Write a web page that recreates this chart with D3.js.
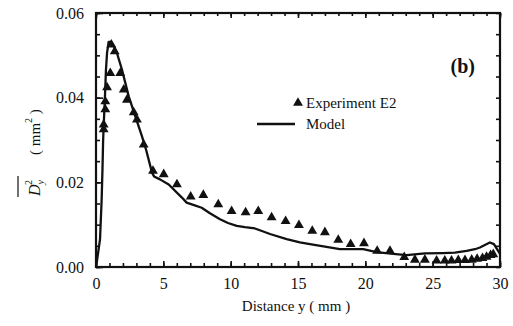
<!DOCTYPE html>
<html>
<head>
<meta charset="utf-8">
<script src="https://cdn.jsdelivr.net/npm/d3@7"></script>
<style>
  body { margin: 0; background: #fff; }
  text { font-family: "Times New Roman", "Liberation Serif", Times, serif; }
</style>
</head>
<body>
<svg id="chart" width="513" height="326"></svg>
<script>
// experiment E2 (triangles)
var expX = [0.57, 0.57, 0.69, 0.69, 0.82, 1.06, 1.14, 1.39, 1.80, 2.06, 2.30, 2.80, 3.04, 3.54,
            4.23, 5.03, 6.01, 7.03, 7.97, 9.08, 10.07, 11.11, 12.05, 13.04, 14.08, 15.07, 16.06,
            17.00, 17.99, 18.91, 19.90, 20.88, 21.83, 22.89, 23.68, 24.42, 25.29, 25.90, 26.40,
            26.90, 27.40, 27.90, 28.30, 28.70, 29.00, 29.30, 29.50];
var expY = [0.0325, 0.0336, 0.0372, 0.0391, 0.0424, 0.0458, 0.0525, 0.0509, 0.0458, 0.0419, 0.0395,
            0.0365, 0.0348, 0.0289, 0.0227, 0.0219, 0.0195, 0.0166, 0.0170, 0.0148, 0.0132, 0.0129,
            0.0132, 0.0117, 0.0108, 0.0099, 0.0085, 0.0082, 0.0064, 0.0054, 0.0056, 0.0038, 0.0038,
            0.0023, 0.0017, 0.0017, 0.0015, 0.0015, 0.0015, 0.0016, 0.0016, 0.0017, 0.0019, 0.0021,
            0.0024, 0.0028, 0.0030];

// model (solid line)
var modelX = [0, 0.07, 0.30, 0.42, 0.48, 0.53, 0.59, 0.67, 0.74, 0.82, 0.94, 1.11, 1.34, 1.56, 1.93,
              2.43, 2.92, 3.41, 3.71, 4.16, 4.31, 4.75, 5.40, 6.38, 6.73, 7.28, 7.85, 8.46, 9.21,
              9.80, 10.45, 11.06, 11.80, 12.32, 12.92, 14.16, 15.14, 15.89, 17.00, 18.11, 19.84,
              20.84, 22.07, 23.07, 24.42, 25.76, 26.65, 27.52, 28.14, 28.51, 28.95, 29.25, 29.55,
              29.78, 30.0];
var modelY = [0, 0.0014, 0.0066, 0.0160, 0.0230, 0.0300, 0.0348, 0.0407, 0.0466, 0.0506, 0.0532,
              0.0532, 0.0520, 0.0505, 0.0466, 0.0403, 0.0356, 0.0309, 0.0278, 0.0223, 0.0214, 0.0207,
              0.0195, 0.0164, 0.0152, 0.0146, 0.0140, 0.0127, 0.0113, 0.0104, 0.0097, 0.0094, 0.0091,
              0.0085, 0.0078, 0.0066, 0.0058, 0.0054, 0.0048, 0.0042, 0.0042, 0.0035, 0.0031, 0.0028,
              0.0032, 0.0033, 0.0034, 0.0038, 0.0042, 0.0046, 0.0053, 0.0058, 0.0054, 0.0042, 0.0031];

var xMajor = [0, 5, 10, 15, 20, 25, 30];
var yMajor = [0, 0.02, 0.04, 0.06];

var svg = d3.select("#chart");
var plotLeft = 96, plotRight = 500, plotTop = 13, plotBottom = 267;

var x = d3.scaleLinear().domain([0, 30]).range([plotLeft, plotRight]);
var y = d3.scaleLinear().domain([0, 0.06]).range([plotBottom, plotTop]);

function styleAxis(g){
	g.attr("font-family", null);
	g.select(".domain").remove();
	g.selectAll("line").attr("stroke", "#111").attr("stroke-width", 1.6);
	g.selectAll("text").attr("font-size", 16).attr("fill", "#111");
}

// minor ticks, all four sides
svg.append("g").attr("transform", "translate(0," + plotBottom + ")")
	.call(d3.axisBottom(x).tickValues(d3.range(0, 31, 1)).tickSize(-4).tickFormat(""))
	.call(styleAxis);
svg.append("g").attr("transform", "translate(0," + plotTop + ")")
	.call(d3.axisTop(x).tickValues(d3.range(0, 31, 1)).tickSize(-3).tickFormat(""))
	.call(styleAxis);
svg.append("g").attr("transform", "translate(" + plotLeft + ",0)")
	.call(d3.axisLeft(y).tickValues(d3.range(0, 0.0601, 0.005)).tickSize(-4).tickFormat(""))
	.call(styleAxis);
svg.append("g").attr("transform", "translate(" + plotRight + ",0)")
	.call(d3.axisRight(y).tickValues(d3.range(0, 0.0601, 0.005)).tickSize(-4).tickFormat(""))
	.call(styleAxis);

// major ticks with labels
svg.append("g").attr("transform", "translate(0," + plotBottom + ")")
	.call(d3.axisBottom(x).tickValues(xMajor).tickSize(-6).tickPadding(11).tickFormat(d3.format("d")))
	.call(styleAxis);
svg.append("g").attr("transform", "translate(0," + plotTop + ")")
	.call(d3.axisTop(x).tickValues(xMajor).tickSize(-5).tickFormat(""))
	.call(styleAxis);
svg.append("g").attr("transform", "translate(" + plotLeft + ",0)")
	.call(d3.axisLeft(y).tickValues(yMajor).tickSize(-7).tickPadding(12).tickFormat(d3.format(".2f")))
	.call(styleAxis);

// frame
svg.append("rect")
	.attr("x", plotLeft).attr("y", plotTop)
	.attr("width", plotRight - plotLeft).attr("height", plotBottom - plotTop)
	.attr("fill", "none").attr("stroke", "#111").attr("stroke-width", 2.2);

// model line
var line = d3.line()
	.x(function(d, i){ return x(modelX[i]); })
	.y(function(d, i){ return y(modelY[i]); });
svg.append("path")
	.datum(modelY)
	.attr("d", line)
	.attr("fill", "none").attr("stroke", "#111").attr("stroke-width", 2.3)
	.attr("stroke-linejoin", "round");

// experiment triangles
var tri = d3.symbol().type(d3.symbolTriangle).size(42);
svg.append("g").selectAll("path")
	.data(expY)
	.join("path")
	.attr("d", tri)
	.attr("transform", function(d, i){ return "translate(" + x(expX[i]) + "," + y(d) + ")"; })
	.attr("fill", "#111");

// legend
svg.append("path").attr("d", tri).attr("transform", "translate(298,103)").attr("fill", "#111");
svg.append("text").attr("x", 306).attr("y", 108).attr("font-size", 15).text("Experiment E2");
svg.append("line").attr("x1", 257).attr("x2", 295).attr("y1", 124).attr("y2", 124)
	.attr("stroke", "#111").attr("stroke-width", 2.3);
svg.append("text").attr("x", 306).attr("y", 129).attr("font-size", 15).text("Model");

svg.append("text").attr("x", 475).attr("y", 73).attr("text-anchor", "end")
	.attr("font-size", 20).attr("font-weight", "bold").text("(b)");

// x label
svg.append("text").attr("x", 296).attr("y", 311).attr("text-anchor", "middle")
	.attr("font-size", 15).text("Distance y  ( mm )");

// y label, rotated
var yl = svg.append("g").attr("transform", "translate(40,0) rotate(-90)");
var dy = yl.append("text").attr("x", -196).attr("y", 0).attr("font-size", 16);
dy.append("tspan").attr("font-style", "italic").text("D");
dy.append("tspan").attr("font-size", 10).attr("font-style", "italic").attr("dy", 4).text("y");
dy.append("tspan").attr("font-size", 10).attr("dx", -5).attr("dy", -12).text("2");
yl.append("line").attr("x1", -197).attr("x2", -176).attr("y1", -22).attr("y2", -22)
	.attr("stroke", "#111").attr("stroke-width", 1.2);
var mm = yl.append("text").attr("x", -155).attr("y", 0).attr("font-size", 15);
mm.append("tspan").text("( mm");
mm.append("tspan").attr("font-size", 10).attr("dy", -8).text("2");
mm.append("tspan").attr("dy", 8).text(" )");

svg.selectAll("text").attr("font-family", "Times New Roman, Liberation Serif, serif").attr("fill", "#111");
</script>
</body>
</html>
